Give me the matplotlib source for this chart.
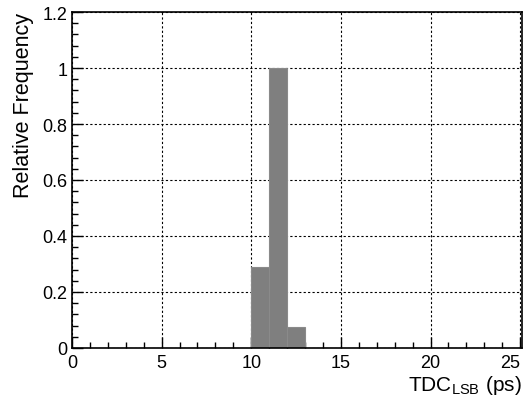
import matplotlib
matplotlib.use("Agg")
import matplotlib.pyplot as plt
from matplotlib.ticker import MultipleLocator
from matplotlib.transforms import ScaledTranslation

bin_edges = [10, 11, 12, 13]
freq = [0.289, 1.0, 0.075]
x_ticks = [0, 5, 10, 15, 20, 25]
y_ticks = [0, 0.2, 0.4, 0.6, 0.8, 1, 1.2]
y_tick_labels = ["0", "0.2", "0.4", "0.6", "0.8", "1", "1.2"]

plt.rcParams['font.family'] = ['Liberation Sans', 'DejaVu Sans']
plt.rcParams['mathtext.fontset'] = 'custom'
plt.rcParams['mathtext.rm'] = 'Liberation Sans'
plt.rcParams['mathtext.it'] = 'Liberation Sans:italic'

fig = plt.figure(figsize=(5.25, 4.06), dpi=100)
ax = fig.add_axes([72/525, 57/406, 450/525, 336/406])

widths = [bin_edges[i+1] - bin_edges[i] for i in range(len(freq))]
ax.bar(bin_edges[:-1], freq, width=widths, align='edge', color='#7f7f7f',
       edgecolor='#8a8a8a', linewidth=0.8, zorder=1)

ax.set_xlim(0, 25.1)
ax.set_ylim(0, 1.2)
ax.set_xticks(x_ticks)
ax.set_yticks(y_ticks)
ax.set_yticklabels(y_tick_labels)
ax.xaxis.set_minor_locator(MultipleLocator(1))
ax.yaxis.set_minor_locator(MultipleLocator(0.04))
ax.tick_params(which='both', direction='in', top=False, right=False,
               labelsize=13, width=1)
ax.tick_params(which='major', length=8)
ax.tick_params(which='minor', length=4)
ax.tick_params(axis='x', pad=4)
ax.grid(True, which='major', linestyle=(0, (2, 2)), color='black', linewidth=0.8, zorder=0)
ax.set_axisbelow(True)
for s in ax.spines.values():
    s.set_linewidth(1.2)

# shift last x tick label left so it stays inside the figure
last = ax.get_xticklabels()[-1]
last.set_transform(last.get_transform() + ScaledTranslation(-0.1, 0, fig.dpi_scale_trans))

ax.set_xlabel(r"TDC$_{\mathrm{LSB}}$ (ps)", fontsize=15, loc='right', labelpad=2)
ax.set_ylabel("Relative Frequency", fontsize=15.5, loc='top', labelpad=6)

fig.savefig("out.png", dpi=100)
